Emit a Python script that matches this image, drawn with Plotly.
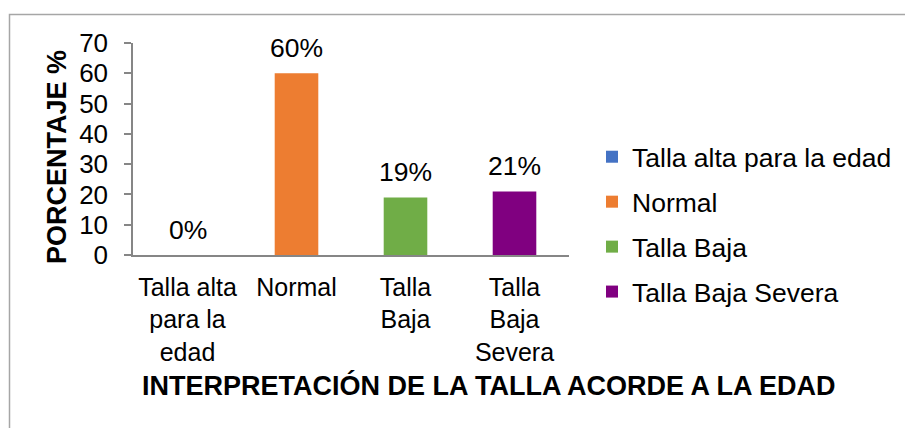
import plotly.graph_objects as go

categories = ["Talla alta para la edad", "Normal", "Talla Baja", "Talla Baja Severa"]
tick_labels = ["Talla alta<br>para la<br>edad", "Normal", "Talla<br>Baja", "Talla<br>Baja<br>Severa"]
values = [0, 60, 19, 21]
label_text = ["0%", "60%", "19%", "21%"]
colors = ["#4472C4", "#ED7D31", "#70AD47", "#800080"]
y_ticks = [0, 10, 20, 30, 40, 50, 60, 70]

FONT = "Liberation Sans, Arial, sans-serif"
OFF = 8  # page body margin
W, H = 913 - OFF, 428 - OFF
L = 133 - OFF
T = 43 - OFF
R = W - (569 - OFF)
B = H - (255 - OFF)
PW, PH = W - L - R, H - T - B


def px2x(px):
    return (px - OFF - L) / PW


def py2y(py):
    return (H - B - (py - OFF)) / PH


fig = go.Figure()
for i, (cat, tl, v, c) in enumerate(zip(categories, tick_labels, values, colors)):
    fig.add_trace(go.Bar(
        x=[tl], y=[v], name=cat, marker=dict(color=c, line=dict(width=0)),
        legendgroup=f"g{i}", width=0.4,
    ))

for tl, v, t in zip(tick_labels, values, label_text):
    fig.add_annotation(x=tl, y=v, xref="x", yref="y", text=t, showarrow=False,
                       yanchor="bottom", yshift=8, font=dict(size=26.5, color="#000000", family=FONT))

# y axis title
fig.add_annotation(x=px2x(57), y=py2y(157), xref="paper", yref="paper", text="<b>PORCENTAJE %</b>",
                   textangle=-90, showarrow=False, xanchor="center", yanchor="middle",
                   font=dict(size=27, color="#000000", family=FONT))
# x axis title
fig.add_annotation(x=px2x(488), y=py2y(385), xref="paper", yref="paper",
                   text="<b>INTERPRETACIÓN DE LA TALLA ACORDE A LA EDAD</b>",
                   showarrow=False, xanchor="center", yanchor="middle",
                   font=dict(size=27, color="#000000", family=FONT))

# chart border
fig.add_shape(type="rect", xref="paper", yref="paper",
              x0=px2x(9.5), x1=px2x(960), y0=py2y(480), y1=py2y(14.5),
              line=dict(color="#A6A6A6", width=1.5), fillcolor="rgba(0,0,0,0)", layer="below")

fig.update_layout(
    width=W, height=H,
    margin=dict(l=L, r=R, t=T, b=B, autoexpand=False),
    paper_bgcolor="white", plot_bgcolor="white",
    font=dict(family=FONT, size=25, color="#000000"),
    bargap=0.6,
    showlegend=True,
    legend=dict(x=px2x(592), y=py2y(133), xanchor="left", yanchor="top",
                font=dict(size=26.5, family=FONT, color="#000000"),
                tracegroupgap=7.5, bgcolor="rgba(0,0,0,0)"),
    xaxis=dict(showline=True, linecolor="#868686", linewidth=1.5, ticks="",
               showgrid=False, zeroline=False, tickfont=dict(size=25),
               ticklabelstandoff=9,
               categoryorder="array", categoryarray=tick_labels),
    yaxis=dict(range=[0, 70], tickvals=y_ticks, showline=True, linecolor="#868686", linewidth=1.5,
               ticks="outside", ticklen=7, tickcolor="#868686", tickwidth=1.5,
               ticklabelstandoff=11,
               showgrid=False, zeroline=False, tickfont=dict(size=26)),
)

fig.write_html("out.html")
